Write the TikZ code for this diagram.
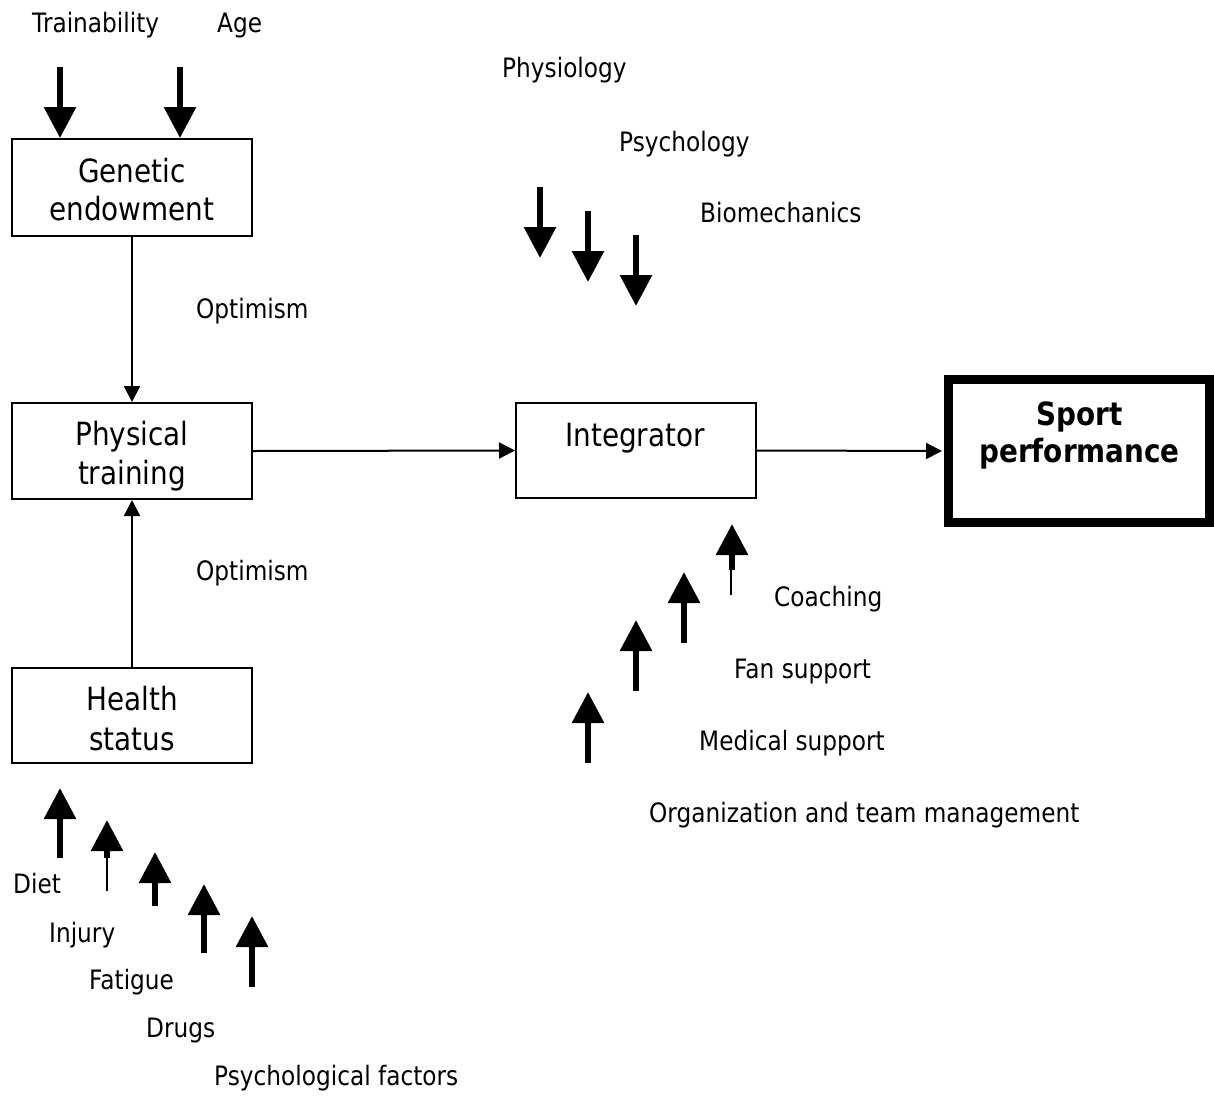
\documentclass[tikz,border=0pt]{standalone}
\usepackage{fontspec}
\setmainfont{DejaVu Sans}[FakeStretch=0.87]
\usetikzlibrary{arrows.meta}
\begin{document}
\begin{tikzpicture}[x=1pt,y=-1pt,
  lbl/.style={anchor=base west, inner sep=0pt, font=\fontsize{26.7}{32}\selectfont},
  boxtxt/.style={anchor=base, inner sep=0pt, font=\fontsize{32}{38}\selectfont},
  box/.style={draw, line width=2pt, inner sep=0pt},
  thinarrow/.style={line width=2pt, -{Triangle[width=16pt,length=16pt]}},
  blk/.style={line width=6pt, -{Triangle[width=31pt,length=31pt]}},
  stub/.style={line width=2.5pt}]
\useasboundingbox (0,0) rectangle (1214,1095);

% boxes
\node[box, minimum width=240pt, minimum height=97pt] (gen) at (132,187.5) {};
\node[box, minimum width=240pt, minimum height=96pt] (phys) at (132,451) {};
\node[box, minimum width=240pt, minimum height=95pt] (health) at (132,715.5) {};
\node[box, minimum width=240pt, minimum height=95pt] (integ) at (636,450.5) {};
\node[draw, line width=9pt, inner sep=0pt, minimum width=261.5pt, minimum height=143pt] (sport) at (1078.75,451) {};

% box texts
\node[boxtxt] (genA) at (132,182) {Genetic};
\node[boxtxt] (genB) at (132,220) {endowment};
\node[boxtxt] (physA) at (132,445) {Physical};
\node[boxtxt] (physB) at (132,484) {training};
\node[boxtxt] (healthA) at (132,710) {Health};
\node[boxtxt] (healthB) at (132,750) {status};
\node[boxtxt] (integT) at (635,446) {Integrator};
\node[boxtxt, font=\fontsize{32}{38}\selectfont\bfseries] (sportA) at (1079.5,425) {Sport};
\node[boxtxt, font=\fontsize{32}{38}\selectfont\bfseries] (sportB) at (1079.5,462) {performance};

% labels
\node[lbl] (train) at (32,32) {Trainability};
\node[lbl] (age) at (217,32) {Age};
\node[lbl] (physio) at (502,77) {Physiology};
\node[lbl] (psycho) at (619,151) {Psychology};
\node[lbl] (biomech) at (700,222) {Biomechanics};
\node[lbl] (opt1) at (196,318) {Optimism};
\node[lbl] (opt2) at (196,580) {Optimism};
\node[lbl] (coach) at (774,606) {Coaching};
\node[lbl] (fan) at (734,678) {Fan support};
\node[lbl] (med) at (699,750) {Medical support};
\node[lbl] (org) at (649,822) {Organization and team management};
\node[lbl] (diet) at (13,893) {Diet};
\node[lbl] (injury) at (49,942) {Injury};
\node[lbl] (fatigue) at (89,989) {Fatigue};
\node[lbl] (drugs) at (146,1037) {Drugs};
\node[lbl] (psyf) at (214,1085) {Psychological factors};

% thin connectors
\draw[thinarrow] (gen.south) -- (phys.north);
\draw[thinarrow] (health.north) -- (phys.south);
\draw[thinarrow] (phys.east) -- (integ.west);
\draw[thinarrow, shorten >=1.5pt] (integ.east) -- (sport.west);

% block arrows: top
\coordinate (a1) at (60,67);  \coordinate (a2) at (180,67);
\draw[blk] (a1) -- (a1 |- gen.north);
\draw[blk] (a2) -- (a2 |- gen.north);

% block arrows: physiology etc.
\coordinate (p1s) at (540,187); \coordinate (p1e) at (540,258);
\coordinate (p2s) at (588,211); \coordinate (p2e) at (588,282);
\coordinate (p3s) at (636,235); \coordinate (p3e) at (636,306);
\draw[blk] (p1s) -- (p1e);
\draw[blk] (p2s) -- (p2e);
\draw[blk] (p3s) -- (p3e);

% block arrows: health factors
\coordinate (h1s) at (60,858);  \coordinate (h1e) at (60,788);
\coordinate (h2b) at (107,891); \coordinate (h2s) at (107,858); \coordinate (h2e) at (107,820);
\coordinate (h3s) at (155,906); \coordinate (h3e) at (155,852);
\coordinate (h4s) at (204,953); \coordinate (h4e) at (204,884);
\coordinate (h5s) at (252,987); \coordinate (h5e) at (252,916);
\draw[blk] (h1s) -- (h1e);
\draw[stub] (h2b) -- (h2s);
\draw[blk] (h2s) -- (h2e);
\draw[blk] (h3s) -- (h3e);
\draw[blk] (h4s) -- (h4e);
\draw[blk] (h5s) -- (h5e);

% block arrows: integrator factors
\coordinate (i1s) at (588,763); \coordinate (i1e) at (588,692);
\coordinate (i2s) at (636,691); \coordinate (i2e) at (636,620);
\coordinate (i3s) at (684,643); \coordinate (i3e) at (684,572);
\coordinate (i4b) at (731,595); \coordinate (i4s) at (732,570); \coordinate (i4e) at (732,524);
\draw[blk] (i1s) -- (i1e);
\draw[blk] (i2s) -- (i2e);
\draw[blk] (i3s) -- (i3e);
\draw[stub] (i4b) -- (i4b |- i4s);
\draw[blk] (i4s) -- (i4e);
\end{tikzpicture}
\end{document}
